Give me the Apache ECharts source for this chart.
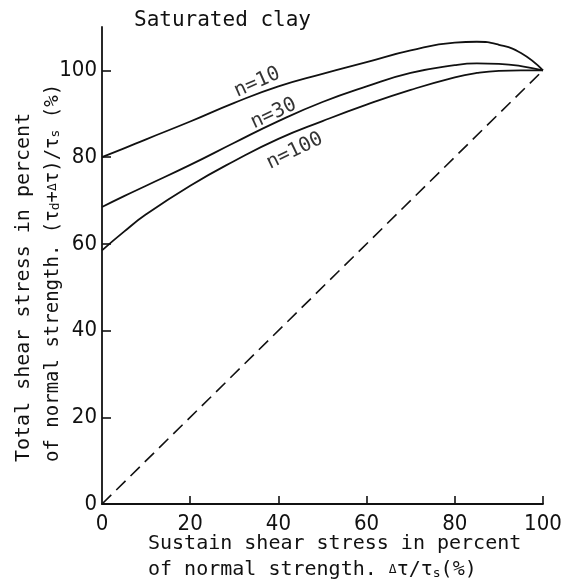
<!DOCTYPE html>
<html><head><meta charset="utf-8">
<script src="https://cdn.jsdelivr.net/npm/echarts@6/dist/echarts.min.js"></script>
<style>html,body{margin:0;padding:0;background:#fff}#c{width:566px;height:581px}</style>
</head><body><div id="c"></div>
<script>
const xValues = [0, 5, 10, 20, 30, 40, 50, 60, 70, 80, 85, 90, 95, 100];
const n10  = [80.0, 82.0, 84.1, 88.2, 92.5, 96.3, 99.2, 101.9, 104.6, 106.4, 106.6, 105.9, 104.0, 100];
const n30  = [68.5, 71.0, 73.4, 78.2, 83.3, 88.3, 92.7, 96.3, 99.4, 101.2, 101.6, 101.5, 101.0, 100];
const n100 = [58.5, 62.8, 66.8, 73.4, 79.1, 84.2, 88.3, 92.1, 95.5, 98.4, 99.4, 99.9, 100.0, 100];
const diagonal = [[0, 0], [100, 100]];
const xTickLabels = [0, 20, 40, 60, 80, 100];
const yTickLabels = [0, 20, 40, 60, 80, 100];
const tickMarks = [20, 40, 60, 80, 100];
const curveNames = ['n=10', 'n=30', 'n=100'];
const curveLabelAt = [[35.2, 97.2], [38.9, 90.0], [43.7, 81.4]];
const curveLabelAngle = [24, 25, 26];

const MONO = '"DejaVu Sans Mono", monospace';
const NUM = '"Liberation Sans Narrow", "DejaVu Sans Condensed", sans-serif';
const INK = '#111';

function pairs(ys) { return xValues.map((x, i) => [x, ys[i]]); }
const curves = [n10, n30, n100];

const series = curves.map((ys, k) => ({
  type: 'line', name: curveNames[k], data: pairs(ys),
  smooth: 0.5, symbol: 'none',
  lineStyle: { color: INK, width: 1.8 }, z: 3
}));
series.push({
  type: 'line', name: 'diagonal', data: diagonal, symbol: 'none',
  lineStyle: { color: INK, width: 1.6, type: [13, 7] }
});
curveNames.forEach((nm, k) => {
  series.push({
    type: 'scatter', data: [curveLabelAt[k]], symbolSize: 1,
    itemStyle: { color: 'rgba(0,0,0,0)' }, silent: true,
    label: { show: true, position: 'inside', formatter: nm, rotate: curveLabelAngle[k],
      color: '#000', textBorderWidth: 0, fontFamily: MONO, fontSize: 20 }
  });
});

const sub = { fontFamily: MONO, fontSize: 13, verticalAlign: 'bottom', fill: INK };
const smallD = { fontFamily: MONO, fontSize: 13, fill: INK };

const chart = echarts.init(document.getElementById('c'), null, { renderer: 'canvas' });
chart.setOption({
  animation: false,
  backgroundColor: '#fff',
  grid: { left: 102, right: 23, top: 27, bottom: 77 },
  xAxis: {
    type: 'value', min: 0, max: 100, interval: 20,
    axisLine: { lineStyle: { color: INK, width: 1.8 } },
    axisTick: { inside: true, length: 8, customValues: tickMarks, lineStyle: { color: INK, width: 1.6 } },
    axisLabel: { customValues: xTickLabels, margin: 9, color: INK, fontFamily: NUM, fontSize: 22 },
    splitLine: { show: false }
  },
  yAxis: {
    type: 'value', min: 0, max: 110, interval: 20,
    axisLine: { lineStyle: { color: INK, width: 1.8 } },
    axisTick: { inside: true, length: 9, customValues: tickMarks, lineStyle: { color: INK, width: 1.6 } },
    axisLabel: { customValues: yTickLabels, margin: 5, color: INK, fontFamily: NUM, fontSize: 22 },
    splitLine: { show: false }
  },
  series: series,
  graphic: [
    { type: 'text', x: 134, y: 21, style: { text: 'Saturated clay', fontFamily: MONO, fontSize: 21, fill: INK, align: 'left', verticalAlign: 'middle' } },
    { type: 'text', x: 148, y: 544, style: { text: 'Sustain shear stress in percent', fontFamily: MONO, fontSize: 20, fill: INK, align: 'left', verticalAlign: 'middle' } },
    { type: 'text', x: 148, y: 570, style: { text: 'of normal strength. {d|Δ}τ/τ{s|s}(%)', fontFamily: MONO, fontSize: 20, fill: INK, align: 'left', verticalAlign: 'middle', rich: { s: sub, d: smallD } } },
    { type: 'text', x: 24, y: 462, rotation: Math.PI / 2, style: { text: 'Total shear stress in percent', fontFamily: MONO, fontSize: 20, fill: INK, align: 'left', verticalAlign: 'middle' } },
    { type: 'text', x: 53, y: 462, rotation: Math.PI / 2, style: { text: 'of normal strength. (τ{s|d}+{d|Δ}τ)/τ{s|s} (%)', fontFamily: MONO, fontSize: 19, fill: INK, align: 'left', verticalAlign: 'middle', rich: { s: sub, d: smallD } } }
  ]
});
</script></body></html>
